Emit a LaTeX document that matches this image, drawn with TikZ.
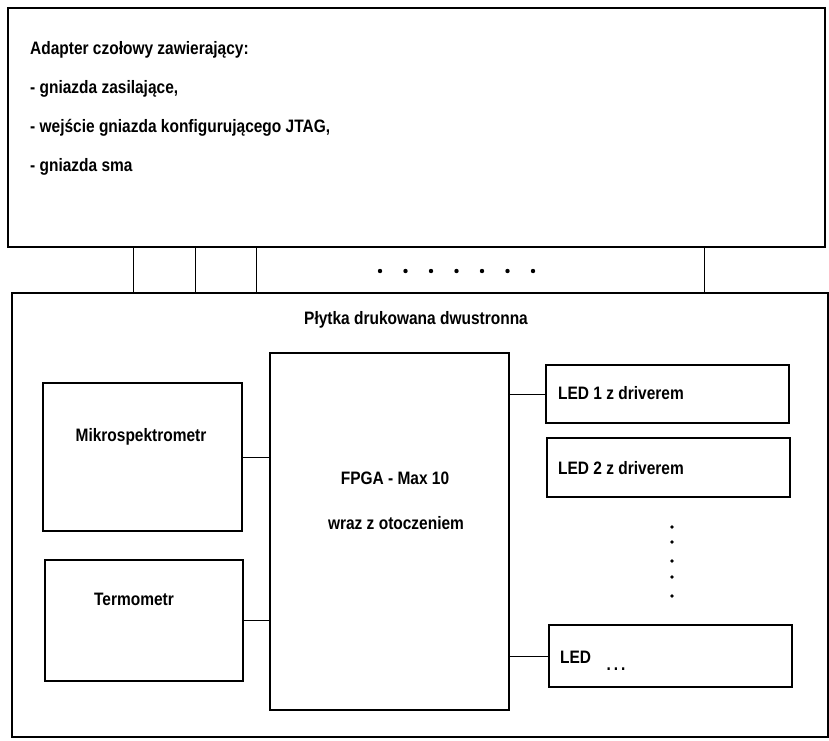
\documentclass[tikz,border=0pt]{standalone}
\usepackage{fontspec}
\setmainfont[FakeStretch=0.86]{Liberation Sans}
\begin{document}
\begin{tikzpicture}[x=1pt,y=-1pt,
  box/.style={draw, line width=1.5pt, rectangle, inner sep=0pt},
  conn/.style={line width=1pt},
  lbl/.style={inner sep=0pt, font=\fontsize{18}{20}\selectfont\bfseries},
  dotmark/.style={fill=black}]
\useasboundingbox (0,0) rectangle (829,740);
% outer boxes
\node[box, minimum width=817pt, minimum height=239pt] (adapter) at (416.5,127.5) {};
\node[box, minimum width=816pt, minimum height=444pt] (pcb) at (420,515) {};
% adapter text
\node[lbl, anchor=west] (t1) at (30,50) {Adapter czołowy zawierający:};
\node[lbl, anchor=west] (t2) at (30,89) {- gniazda zasilające,};
\node[lbl, anchor=west] (t3) at (30,128) {- wejście gniazda konfigurującego JTAG,};
\node[lbl, anchor=west] (t4) at (30,167) {- gniazda sma};
% connectors between adapter and pcb
\coordinate (k1) at (133,0);
\coordinate (k2) at (195,0);
\coordinate (k3) at (256,0);
\coordinate (k4) at (704,0);
\foreach \k in {k1,k2,k3,k4}
  \draw[conn] (adapter.south -| \k) -- (pcb.north -| \k);
\foreach \x in {380,405.5,431,456.5,482,507.5,533}
  \fill[dotmark] (\x,271) circle (2.2pt);
% pcb title
\node[lbl] (title) at (416,320) {Płytka drukowana dwustronna};
% inner blocks
\node[box, minimum width=199pt, minimum height=148pt] (mikro) at (142.5,457) {};
\node[lbl] (mikrotxt) at (141,437) {Mikrospektrometr};
\node[box, minimum width=198pt, minimum height=121pt] (termo) at (144,620.5) {};
\node[lbl] (termotxt) at (134,599) {Termometr};
\node[box, minimum width=239pt, minimum height=357pt] (fpga) at (389.5,531.5) {};
\node[lbl] (fpgatxt1) at (395,478) {FPGA - Max 10};
\node[lbl] (fpgatxt2) at (396,523) {wraz z otoczeniem};
\node[box, minimum width=243pt, minimum height=58pt] (led1) at (667.5,394) {};
\node[lbl, anchor=west] (led1txt) at (558,393) {LED 1 z driverem};
\node[box, minimum width=243pt, minimum height=59pt] (led2) at (668.5,467.5) {};
\node[lbl, anchor=west] (led2txt) at (558,468) {LED 2 z driverem};
\node[box, minimum width=243pt, minimum height=62pt] (led3) at (670.5,656) {};
\node[lbl, anchor=west] (led3txt) at (560,657) {LED};
\node[lbl] (led3dots) at (616,669) {.\,.\,.};
\foreach \y in {527,542,561,577,596}
  \fill[dotmark] (672,\y) circle (1.8pt);
% connectors
\draw[conn] (mikro.east) -- (fpga.west |- mikro.east);
\draw[conn] (termo.east) -- (fpga.west |- termo.east);
\draw[conn] (fpga.east |- led1.west) -- (led1.west);
\draw[conn] (fpga.east |- led3.west) -- (led3.west);
\end{tikzpicture}
\end{document}
